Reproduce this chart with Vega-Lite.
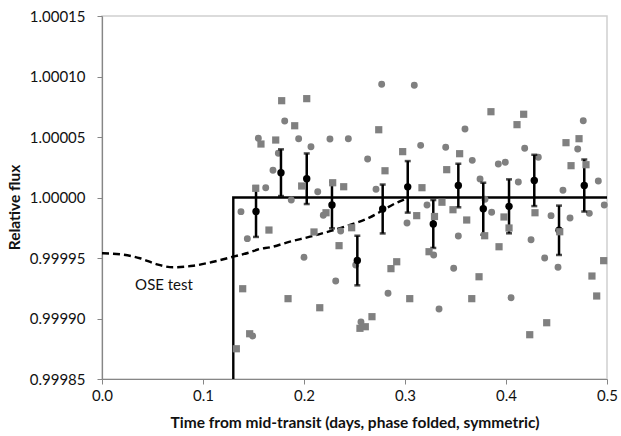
{
  "$schema": "https://vega.github.io/schema/vega-lite/v6.json",
  "width": 505,
  "height": 363,
  "autosize": {"type": "none"},
  "padding": {"left": 102, "top": 16, "right": 14, "bottom": 57},
  "background": "white",
  "config": {
    "view": {"stroke": "#d0d0d0", "strokeWidth": 1.5},
    "font": "Lato",
    "axis": {
      "grid": false,
      "labelFlush": false,
      "labelOverlap": false,
      "domainColor": "#868686",
      "domainWidth": 1.2,
      "tickColor": "#868686",
      "tickSize": 5,
      "labelFont": "Lato",
      "labelFontSize": 15,
      "labelColor": "#111111",
      "titleFont": "Lato",
      "titleFontSize": 15.5,
      "titleFontWeight": "bold",
      "titleColor": "#111111"
    }
  },
  "datasets": {
    "circles": [
      {"t": 0.1548, "flux": 1.0000489}, {"t": 0.1746, "flux": 1.0000365}, {"t": 0.1693, "flux": 1.0000225},
      {"t": 0.1621, "flux": 1.0000081}, {"t": 0.1376, "flux": 0.9999883}, {"t": 0.1439, "flux": 0.999966},
      {"t": 0.1492, "flux": 0.9998855}, {"t": 0.1809, "flux": 1.0000632}, {"t": 0.1947, "flux": 1.0000486},
      {"t": 0.2069, "flux": 1.000042}, {"t": 0.2257, "flux": 1.0000483}, {"t": 0.2439, "flux": 1.0000486},
      {"t": 0.2769, "flux": 1.0000936}, {"t": 0.3092, "flux": 1.0000927}, {"t": 0.263, "flux": 1.0000318},
      {"t": 0.3155, "flux": 1.0000431}, {"t": 0.3403, "flux": 1.0000415}, {"t": 0.1874, "flux": 0.9999979},
      {"t": 0.2136, "flux": 1.0000048}, {"t": 0.2713, "flux": 1.0000068}, {"t": 0.3218, "flux": 0.9999938},
      {"t": 0.2191, "flux": 0.9999853}, {"t": 0.2363, "flux": 0.9999723}, {"t": 0.2, "flux": 0.9999506},
      {"t": 0.2314, "flux": 0.999931}, {"t": 0.2512, "flux": 0.9999442}, {"t": 0.2832, "flux": 0.9999208},
      {"t": 0.2564, "flux": 0.9998971}, {"t": 0.3337, "flux": 0.9999079}, {"t": 0.3482, "flux": 0.9999415},
      {"t": 0.3528, "flux": 0.9999682}, {"t": 0.302, "flux": 0.9999789}, {"t": 0.3284, "flux": 0.9999525},
      {"t": 0.3594, "flux": 1.0000566}, {"t": 0.3666, "flux": 1.0000307}, {"t": 0.3924, "flux": 1.0000277},
      {"t": 0.3993, "flux": 1.0000291}, {"t": 0.4185, "flux": 1.0000407}, {"t": 0.432, "flux": 1.0000332},
      {"t": 0.3743, "flux": 1.0000153}, {"t": 0.4122, "flux": 1.0000128}, {"t": 0.471, "flux": 1.0000401},
      {"t": 0.4765, "flux": 1.0000635}, {"t": 0.4914, "flux": 1.0000136}, {"t": 0.4564, "flux": 1.000006},
      {"t": 0.3792, "flux": 0.9999985}, {"t": 0.3858, "flux": 0.9999878}, {"t": 0.4446, "flux": 0.999985},
      {"t": 0.4634, "flux": 0.9999831}, {"t": 0.4825, "flux": 0.9999869}, {"t": 0.4973, "flux": 0.9999938},
      {"t": 0.4248, "flux": 0.9999651}, {"t": 0.4383, "flux": 0.99995}, {"t": 0.4515, "flux": 0.9999423},
      {"t": 0.405, "flux": 0.9999172}
    ],
    "squares": [
      {"t": 0.1779, "flux": 1.00008}, {"t": 0.1574, "flux": 1.0000442}, {"t": 0.172, "flux": 1.0000475},
      {"t": 0.1522, "flux": 1.0000076}, {"t": 0.1653, "flux": 0.9999731}, {"t": 0.1393, "flux": 0.9999246},
      {"t": 0.1462, "flux": 0.9998874}, {"t": 0.133, "flux": 0.999875}, {"t": 0.1908, "flux": 1.0000593},
      {"t": 0.2027, "flux": 1.0000817}, {"t": 0.274, "flux": 1.000056}, {"t": 0.2802, "flux": 1.0000221},
      {"t": 0.2977, "flux": 1.0000379}, {"t": 0.3541, "flux": 1.0000362}, {"t": 0.3413, "flux": 1.000023},
      {"t": 0.1977, "flux": 1.0000095}, {"t": 0.2284, "flux": 1.0000122}, {"t": 0.2393, "flux": 1.0000089},
      {"t": 0.3168, "flux": 1.0000081}, {"t": 0.3366, "flux": 0.9999961}, {"t": 0.3475, "flux": 0.9999899},
      {"t": 0.3116, "flux": 0.999985}, {"t": 0.3292, "flux": 0.9999843}, {"t": 0.2218, "flux": 0.9999874},
      {"t": 0.2099, "flux": 0.9999715}, {"t": 0.2472, "flux": 0.999975}, {"t": 0.2347, "flux": 0.9999602},
      {"t": 0.2918, "flux": 0.9999469}, {"t": 0.2861, "flux": 0.9999412}, {"t": 0.1842, "flux": 0.9999164},
      {"t": 0.2156, "flux": 0.9999089}, {"t": 0.2673, "flux": 0.9999015}, {"t": 0.2554, "flux": 0.9998919},
      {"t": 0.2607, "flux": 0.9998932}, {"t": 0.3047, "flux": 0.9999164}, {"t": 0.3238, "flux": 0.9999552},
      {"t": 0.3851, "flux": 1.0000709}, {"t": 0.4175, "flux": 1.0000688}, {"t": 0.4109, "flux": 1.0000602},
      {"t": 0.4594, "flux": 1.0000453}, {"t": 0.4723, "flux": 1.0000486}, {"t": 0.4644, "flux": 1.0000263},
      {"t": 0.4792, "flux": 1.0000271}, {"t": 0.3611, "flux": 0.9999814}, {"t": 0.398, "flux": 0.9999839},
      {"t": 0.4287, "flux": 0.9999874}, {"t": 0.403, "flux": 0.9999748}, {"t": 0.3789, "flux": 0.9999684},
      {"t": 0.3931, "flux": 0.9999593}, {"t": 0.4532, "flux": 0.9999717}, {"t": 0.4967, "flux": 0.9999478},
      {"t": 0.4851, "flux": 0.9999351}, {"t": 0.3733, "flux": 0.9999345}, {"t": 0.3661, "flux": 0.9999164},
      {"t": 0.4898, "flux": 0.9999186}, {"t": 0.4403, "flux": 0.9998965}, {"t": 0.4235, "flux": 0.9998866}
    ],
    "binned": [
      {"t": 0.1525, "flux": 0.9999884, "lo": 0.9999674, "hi": 1.0000094},
      {"t": 0.1772, "flux": 1.0000205, "lo": 1.0000012, "hi": 1.0000398},
      {"t": 0.2027, "flux": 1.0000155, "lo": 0.9999946, "hi": 1.0000364},
      {"t": 0.2277, "flux": 0.9999938, "lo": 0.9999745, "hi": 1.0000131},
      {"t": 0.2528, "flux": 0.9999479, "lo": 0.9999274, "hi": 0.9999684},
      {"t": 0.2779, "flux": 0.9999905, "lo": 0.9999703, "hi": 1.0000107},
      {"t": 0.3027, "flux": 1.0000088, "lo": 0.9999875, "hi": 1.0000301},
      {"t": 0.328, "flux": 0.9999781, "lo": 0.9999583, "hi": 0.9999979},
      {"t": 0.3528, "flux": 1.0000099, "lo": 0.9999919, "hi": 1.0000279},
      {"t": 0.3775, "flux": 0.9999907, "lo": 0.9999692, "hi": 1.0000122},
      {"t": 0.403, "flux": 0.9999927, "lo": 0.9999704, "hi": 1.000015},
      {"t": 0.428, "flux": 1.0000141, "lo": 0.9999929, "hi": 1.0000353},
      {"t": 0.4525, "flux": 0.9999729, "lo": 0.9999525, "hi": 0.9999933},
      {"t": 0.4775, "flux": 1.0000099, "lo": 0.9999884, "hi": 1.0000314}
    ],
    "step": [
      {"i": 0, "t": 0.13, "flux": 0.99985},
      {"i": 1, "t": 0.13, "flux": 1.0},
      {"i": 2, "t": 0.5, "flux": 1.0}
    ],
    "ose": [
      {"t": 0.0, "flux": 0.9999539}, {"t": 0.0178, "flux": 0.9999531}, {"t": 0.0376, "flux": 0.9999498},
      {"t": 0.0542, "flux": 0.9999448}, {"t": 0.0706, "flux": 0.9999423}, {"t": 0.0904, "flux": 0.9999436},
      {"t": 0.1102, "flux": 0.9999469}, {"t": 0.13, "flux": 0.9999511}, {"t": 0.1465, "flux": 0.9999547},
      {"t": 0.156, "flux": 0.9999574}, {"t": 0.1663, "flux": 0.9999588}, {"t": 0.1861, "flux": 0.9999635},
      {"t": 0.2059, "flux": 0.9999676}, {"t": 0.2274, "flux": 0.9999726}, {"t": 0.2455, "flux": 0.9999773},
      {"t": 0.2653, "flux": 0.9999836}, {"t": 0.2785, "flux": 0.9999897}, {"t": 0.2918, "flux": 0.9999957},
      {"t": 0.3, "flux": 0.9999985}
    ],
    "label": [
      {"t": 0.0614, "flux": 0.9999277, "text": "OSE test"}
    ]
  },
  "encoding": {
    "x": {
      "field": "t", "type": "quantitative",
      "scale": {"domain": [0, 0.5], "nice": false, "zero": false},
      "axis": {
        "values": [0, 0.1, 0.2, 0.3, 0.4, 0.5], "format": ".1f",
        "labelPadding": 4,
        "title": "Time from mid-transit (days, phase folded, symmetric)",
        "titlePadding": 12
      }
    },
    "y": {
      "field": "flux", "type": "quantitative",
      "scale": {"domain": [0.99985, 1.00015], "nice": false, "zero": false},
      "axis": {
        "values": [0.99985, 0.9999, 0.99995, 1.0, 1.00005, 1.0001, 1.00015], "format": ".5f",
        "labelPadding": 12,
        "title": "Relative flux",
        "titleX": -80, "titleY": 191, "titleBaseline": "bottom", "titleAngle": -90, "titleAlign": "center"
      }
    }
  },
  "layer": [
    {
      "data": {"name": "step"},
      "mark": {"type": "line", "color": "#000000", "strokeWidth": 2.4, "clip": true},
      "encoding": {"order": {"field": "i", "type": "quantitative"}}
    },
    {
      "data": {"name": "ose"},
      "mark": {"type": "line", "color": "#000000", "strokeWidth": 2.4, "strokeDash": [7, 4], "interpolate": "monotone"},
      "encoding": {}
    },
    {
      "data": {"name": "label"},
      "mark": {"type": "text", "font": "Lato", "fontSize": 15, "color": "#111111", "align": "center", "baseline": "middle"},
      "encoding": {"text": {"field": "text"}}
    },
    {
      "data": {"name": "circles"},
      "mark": {"type": "point", "shape": "circle", "filled": true, "color": "#808080", "opacity": 1, "size": 48},
      "encoding": {}
    },
    {
      "data": {"name": "binned"},
      "mark": {"type": "rule", "color": "#000000", "strokeWidth": 2.5},
      "encoding": {"y": {"field": "lo", "type": "quantitative"}, "y2": {"field": "hi"}}
    },
    {
      "data": {"name": "binned"},
      "mark": {"type": "tick", "orient": "horizontal", "color": "#000000", "size": 6, "thickness": 2.5},
      "encoding": {"y": {"field": "lo", "type": "quantitative"}}
    },
    {
      "data": {"name": "binned"},
      "mark": {"type": "tick", "orient": "horizontal", "color": "#000000", "size": 6, "thickness": 2.5},
      "encoding": {"y": {"field": "hi", "type": "quantitative"}}
    },
    {
      "data": {"name": "binned"},
      "mark": {"type": "point", "shape": "circle", "filled": true, "color": "#000000", "opacity": 1, "size": 55},
      "encoding": {}
    },
    {
      "data": {"name": "squares"},
      "mark": {"type": "point", "shape": "square", "filled": true, "color": "#808080", "opacity": 1, "size": 52},
      "encoding": {}
    }
  ]
}
